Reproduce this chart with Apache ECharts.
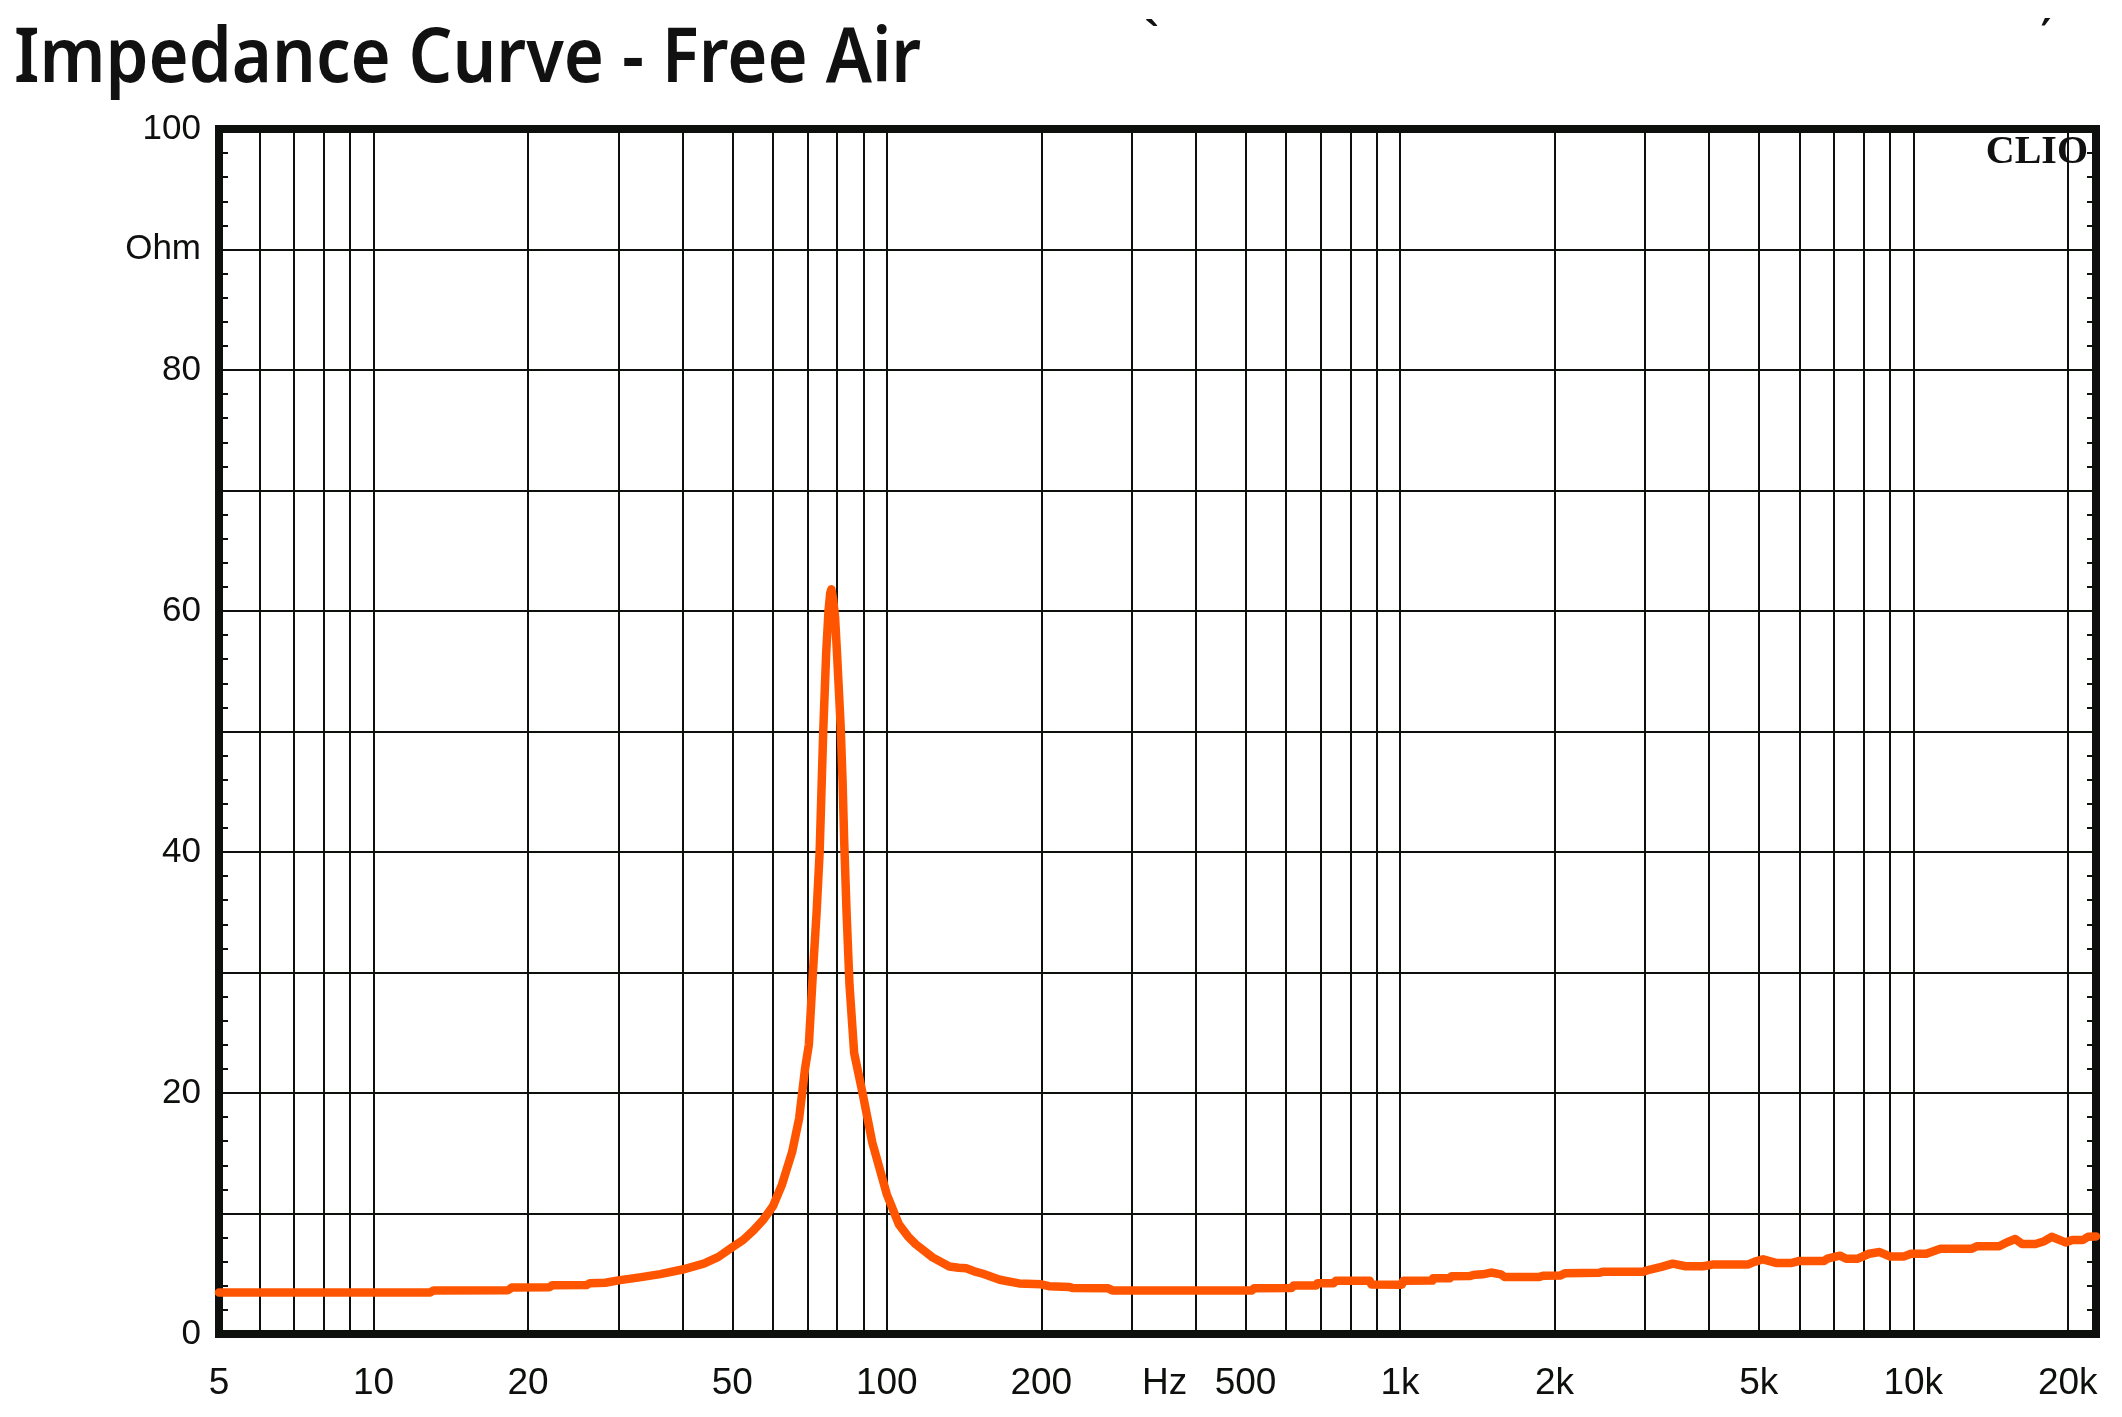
<!DOCTYPE html>
<html><head><meta charset="utf-8">
<script src="https://cdn.jsdelivr.net/npm/echarts@6/dist/echarts.min.js"></script>
<style>html,body{margin:0;padding:0;background:#fff}#c{width:2122px;height:1417px}</style>
</head><body><div id="c"></div>
<script>
const freqHz = [5, 8, 12.9, 13.1, 18.3, 18.6, 22, 22.3, 26, 26.4, 28.3, 30, 33, 36.2, 40, 44, 47, 50, 52.5, 55, 57.5, 60, 62.5, 65.4, 67.5, 69.3, 70.5, 71.8, 73, 74, 74.6, 75.2, 76.2, 77, 77.6, 78, 78.6, 79.3, 80, 81.3, 82, 82.6, 83.5, 84.6, 86.4, 89.7, 93.7, 100, 105.6, 110, 113.9, 122.8, 132.4, 138, 142.8, 148, 154, 166, 181, 200, 207, 227, 230, 270, 275, 514, 520, 615, 620, 687, 690, 742, 750, 873, 880, 1008, 1015, 1156, 1160, 1250, 1260, 1370, 1400, 1450, 1504, 1573, 1600, 1862, 1900, 2050, 2100, 2440, 2480, 2970, 3070, 3230, 3400, 3600, 3900, 4060, 4760, 4900, 5100, 5400, 5800, 6000, 6700, 6800, 7200, 7400, 7800, 8200, 8600, 9000, 9600, 9900, 10600, 11300, 13000, 13300, 14700, 15200, 15800, 16300, 17300, 18000, 18600, 19800, 20400, 21400, 21900, 22700];
const impedanceOhm = [3.45, 3.45, 3.45, 3.62, 3.64, 3.85, 3.87, 4.05, 4.06, 4.22, 4.25, 4.45, 4.7, 4.97, 5.35, 5.84, 6.4, 7.2, 7.8, 8.6, 9.5, 10.6, 12.4, 15.1, 17.9, 22, 24, 30, 35, 40, 45, 50, 56.5, 60, 61.5, 61.8, 61, 59.5, 56.5, 50.5, 46, 41, 35, 29, 23.3, 20, 15.9, 11.6, 9.1, 8.1, 7.45, 6.36, 5.6, 5.5, 5.45, 5.2, 5.0, 4.5, 4.2, 4.12, 3.97, 3.9, 3.81, 3.8, 3.62, 3.6, 3.8, 3.82, 4.02, 4.03, 4.22, 4.22, 4.41, 4.42, 4.1, 4.08, 4.42, 4.43, 4.62, 4.62, 4.8, 4.82, 4.92, 4.95, 5.1, 4.95, 4.72, 4.72, 4.84, 4.85, 5.05, 5.08, 5.16, 5.16, 5.35, 5.57, 5.84, 5.62, 5.62, 5.76, 5.76, 5.98, 6.2, 5.9, 5.9, 6.06, 6.06, 6.25, 6.5, 6.25, 6.25, 6.66, 6.8, 6.44, 6.44, 6.66, 6.66, 7.07, 7.07, 7.28, 7.28, 7.6, 7.88, 7.47, 7.47, 7.7, 8.07, 7.6, 7.8, 7.8, 8.07, 8.1];

const xLabelValues = [5, 10, 20, 50, 100, 200, 348, 500, 1000, 2000, 5000, 10000, 20000];
const xLabelTexts = ['5', '10', '20', '50', '100', '200', 'Hz', '500', '1k', '2k', '5k', '10k', '20k'];
const xGridValues = [6, 7, 8, 9, 10, 20, 30, 40, 50, 60, 70, 80, 90, 100, 200, 300, 400, 500, 600, 700, 800, 900, 1000, 2000, 3000, 4000, 5000, 6000, 7000, 8000, 9000, 10000, 20000];
const yLabelValues = [0, 20, 40, 60, 80, 90, 100];
const yLabelTexts = ['0', '20', '40', '60', '80', 'Ohm', '100'];

const chart = echarts.init(document.getElementById('c'), null, {renderer: 'canvas'});
const ink = '#0e100e';
const xLabelMap = {}; xLabelValues.forEach((v, i) => xLabelMap[v] = xLabelTexts[i]);
const yLabelMap = {}; yLabelValues.forEach((v, i) => yLabelMap[v] = yLabelTexts[i]);

chart.setOption({
  backgroundColor: '#ffffff',
  animation: false,
  grid: {left: 219, top: 129, right: 26, bottom: 83, show: true, borderColor: ink, borderWidth: 8, backgroundColor: '#ffffff'},
  xAxis: {
    type: 'log', logBase: 10, min: 5, max: 22700,
    axisLine: {show: false},
    axisTick: {show: false, customValues: xGridValues},
    splitLine: {show: true, lineStyle: {color: ink, width: 2}},
    axisLabel: {
      customValues: xLabelValues,
      formatter: v => xLabelMap[Math.round(v)] ?? '',
      fontFamily: 'Liberation Sans, Arial, sans-serif', fontSize: 37, color: ink, margin: 31,
      showMinLabel: true, showMaxLabel: true
    }
  },
  yAxis: [{
    type: 'value', min: 0, max: 100, interval: 10, position: 'left',
    axisLine: {show: false},
    axisTick: {show: false, inside: true},
    minorTick: {show: true, splitNumber: 5, length: 9, lineStyle: {color: ink, width: 2}},
    splitLine: {show: true, lineStyle: {color: ink, width: 2}},
    axisLabel: {
      customValues: yLabelValues,
      formatter: v => yLabelMap[Math.round(v)] ?? '',
      fontFamily: 'Liberation Sans, Arial, sans-serif', fontSize: 35, color: ink, margin: 18,
      padding: [8, 0, 0, 0]
    }
  }, {
    type: 'value', min: 0, max: 100, interval: 10, position: 'right',
    axisLine: {show: false},
    axisTick: {show: false, inside: true},
    minorTick: {show: true, splitNumber: 5, length: 9, lineStyle: {color: ink, width: 2}},
    splitLine: {show: false},
    axisLabel: {show: false}
  }],
  series: [{
    type: 'line', xAxisIndex: 0, yAxisIndex: 0,
    data: freqHz.map((f, i) => [f, impedanceOhm[i]]),
    showSymbol: false, smooth: false,
    lineStyle: {color: '#ff5500', width: 8.5, join: 'round', cap: 'round'},
    z: 5
  }],
  graphic: [
    {type: 'text', x: 14, y: 60, scaleX: 0.905, style: {text: 'Impedance Curve - Free Air', font: '600 76px "Noto Sans", sans-serif', fill: '#111', textVerticalAlign: 'middle'}},
    {type: 'text', x: 2088, y: 153, z: 10, style: {text: 'CLIO', font: 'bold 40px "Liberation Serif", serif', fill: '#111', textAlign: 'right', textVerticalAlign: 'middle'}},
    {type: 'text', x: 1152, y: 40, style: {text: '`', font: 'bold 44px "Liberation Sans", sans-serif', fill: '#111', textAlign: 'center', textVerticalAlign: 'middle'}},
    {type: 'text', x: 2046, y: 38, style: {text: '\u2032', font: 'bold 40px "DejaVu Sans", sans-serif', fill: '#111', textAlign: 'center', textVerticalAlign: 'middle'}}
  ]
});
</script>
</body></html>
